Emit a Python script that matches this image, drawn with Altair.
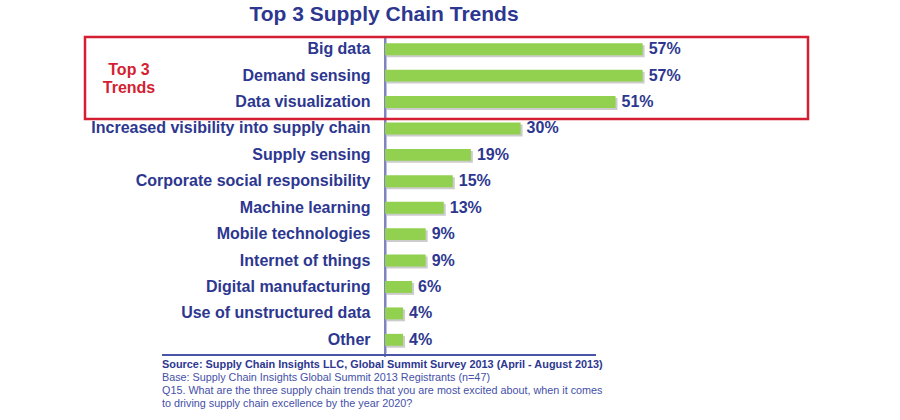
import altair as alt
import pandas as pd

categories = [
    "Big data", "Demand sensing", "Data visualization",
    "Increased visibility into supply chain", "Supply sensing",
    "Corporate social responsibility", "Machine learning",
    "Mobile technologies", "Internet of things", "Digital manufacturing",
    "Use of unstructured data", "Other",
]
values = [57, 57, 51, 30, 19, 15, 13, 9, 9, 6, 4, 4]

title_text = "Top 3 Supply Chain Trends"
box_label = ["Top 3", "Trends"]
foot_lines = [
    "Source: Supply Chain Insights LLC, Global Summit Survey 2013 (April - August 2013)",
    "Base:  Supply Chain Insights Global Summit 2013 Registrants  (n=47)",
    "Q15. What are the three supply chain trends that you are most excited about, when it comes",
    "to driving supply chain excellence by the year 2020?",
]

BLUE = "#2d3790"
GREEN = "#92d14f"
RED = "#d41f33"
FONT = "Liberation Sans"

df = pd.DataFrame({"trend": categories, "pct": values})
df["label"] = df["pct"].astype(str) + "%"

y_enc = alt.Y(
    "trend:N", sort=categories,
    scale=alt.Scale(paddingInner=0.55, paddingOuter=0.275),
    axis=alt.Axis(title=None, ticks=False, labelPadding=15, labelFontSize=16,
                  labelFontWeight="bold", labelColor=BLUE, labelFont=FONT,
                  labelLimit=400, domainColor="#7f84bd", domainWidth=2),
)
x_enc = alt.X("pct:Q", scale=alt.Scale(domain=[0, 100]), axis=None)

base = alt.Chart(df)
shadow = base.mark_bar(color="#9a9a9a", opacity=0.5, xOffset=2, yOffset=2).encode(x=x_enc, y=y_enc)
bars = base.mark_bar(color=GREEN).encode(x=x_enc, y=y_enc)
labels = base.mark_text(align="left", dx=6, fontSize=16, fontWeight="bold",
                        color=BLUE, font=FONT).encode(x=x_enc, y=y_enc, text="label:N")

one = alt.Data(values=[{"k": 1}])

box = alt.Chart(one).mark_rect(fill=None, stroke=RED, strokeWidth=2.5).encode(
    x=alt.value(-300), x2=alt.value(423), y=alt.value(1), y2=alt.value(83))

axis_ext = alt.Chart(one).mark_rule(color="#7f84bd", strokeWidth=2).encode(
    x=alt.value(0), y=alt.value(1), y2=alt.value(321))

title = alt.Chart(one).mark_text(text=title_text, fontSize=21, fontWeight="bold",
                                  color=BLUE, font=FONT, align="center", baseline="middle").encode(
    x=alt.value(384 - 385), y=alt.value(15 - 36))

top3a = alt.Chart(one).mark_text(text=box_label[0], fontSize=16, fontWeight="bold",
                                  color=RED, font=FONT, align="center", baseline="middle").encode(
    x=alt.value(129 - 385), y=alt.value(70 - 36))
top3b = alt.Chart(one).mark_text(text=box_label[1], fontSize=16, fontWeight="bold",
                                  color=RED, font=FONT, align="center", baseline="middle").encode(
    x=alt.value(129 - 385), y=alt.value(88 - 36))

rule = alt.Chart(one).mark_rule(color="#4a55a8", strokeWidth=2).encode(
    x=alt.value(162 - 385), x2=alt.value(596 - 385), y=alt.value(355 - 36))

foot_layers = []
foot_y = [365, 378, 391, 404]
for i, (t, yy) in enumerate(zip(foot_lines, foot_y)):
    foot_layers.append(
        alt.Chart(one).mark_text(text=t, fontSize=10.9 if i == 0 else 10.8,
                                 fontWeight="bold" if i == 0 else "normal",
                                 color=BLUE if i == 0 else "#4450a8", font=FONT,
                                 align="left", baseline="middle").encode(
            x=alt.value(162 - 385), y=alt.value(yy - 36))
    )

chart = alt.layer(axis_ext, shadow, bars, labels, box, title, top3a, top3b, rule, *foot_layers).properties(
    width=452, height=317,
    autosize=alt.AutoSizeParams(type="none"),
    padding={"left": 385, "top": 36, "right": 63, "bottom": 67},
    background="white",
).configure_view(stroke=None)

chart.save("out.html", embed_options={"renderer": "svg", "actions": False})
